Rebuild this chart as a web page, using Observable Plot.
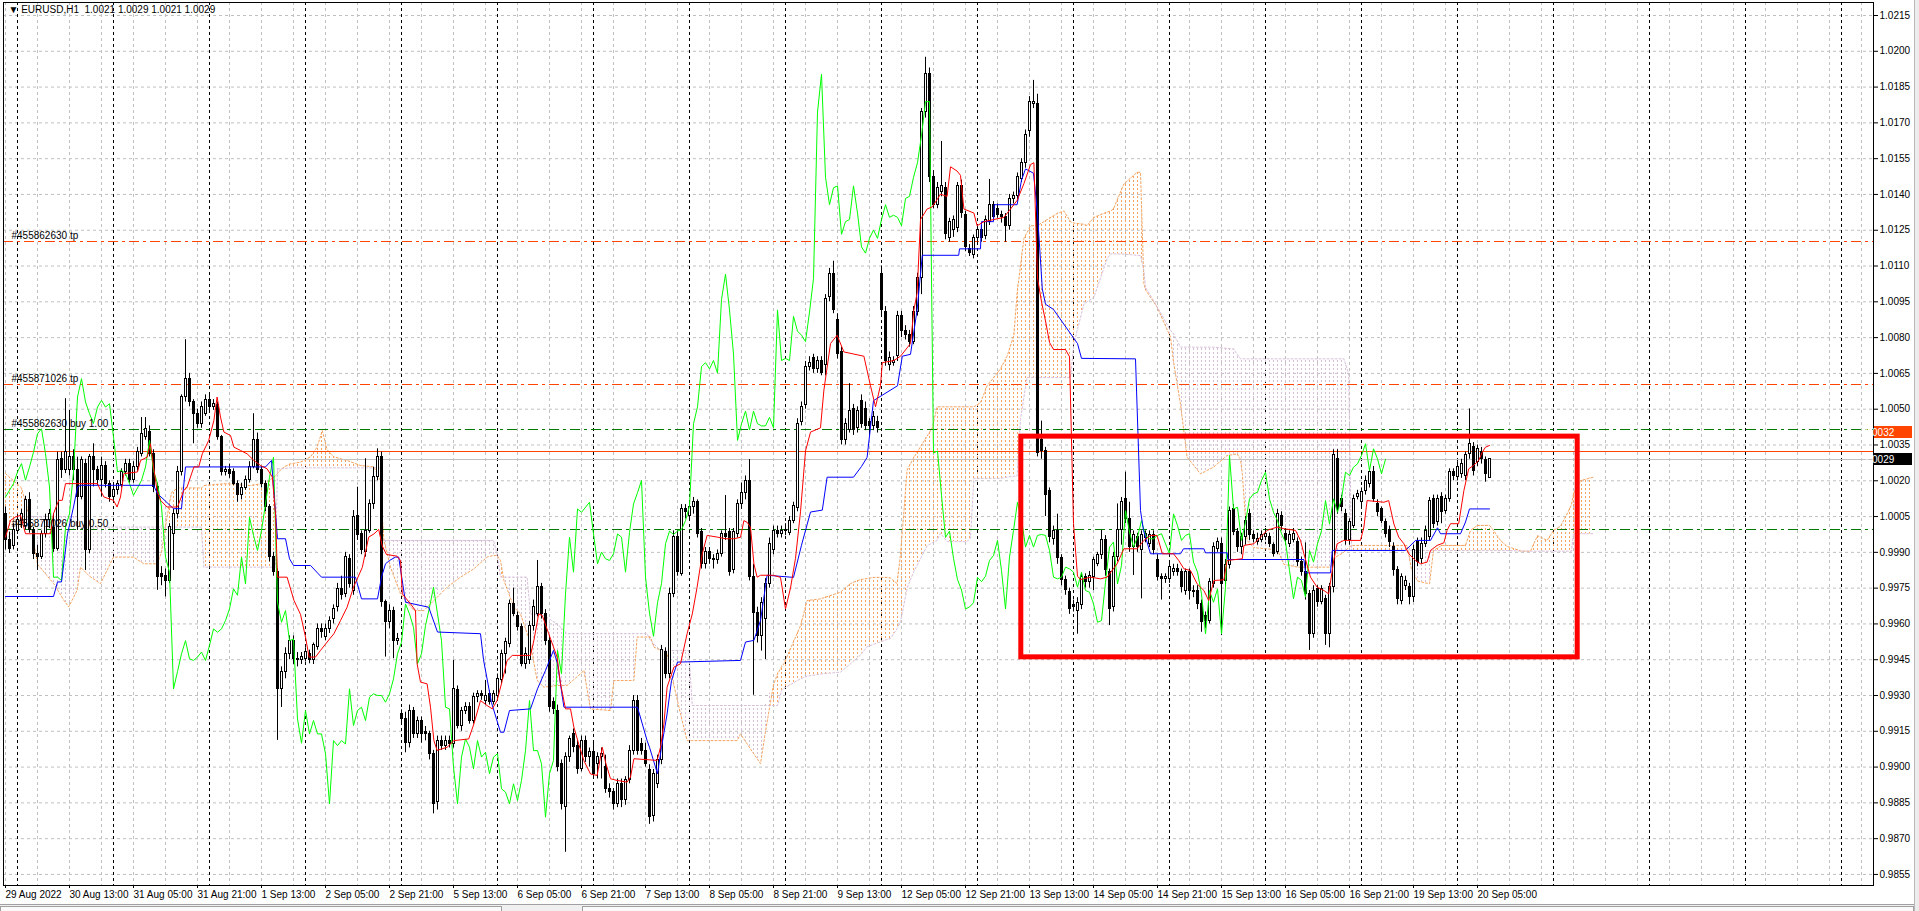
<!DOCTYPE html>
<html>
<head>
<meta charset="utf-8">
<script src="https://cdn.jsdelivr.net/npm/d3@7"></script>
<script src="https://cdn.jsdelivr.net/npm/@observablehq/plot@0.6"></script>
<style>
html, body { margin: 0; padding: 0; background: #ffffff; }
#wrap { position: relative; width: 1919px; height: 911px; overflow: hidden; background: #fff; }
#bottomStrip { position: absolute; left: 0; top: 904px; width: 1919px; height: 7px; background: #f0f0f0; border-top: 1px solid #a0a0a0; }
#tab1 { position: absolute; left: 0; top: 906px; width: 500px; height: 5px; border: 1px solid #a0a0a0; border-bottom: none; background: #fafafa; }
#tab2 { position: absolute; left: 582px; top: 906px; width: 1330px; height: 5px; border: 1px solid #a0a0a0; border-bottom: none; background: #fafafa; }
#rightStrip { position: absolute; left: 1914px; top: 0; width: 5px; height: 911px; background: #ececec; border-left: 1px solid #b8b8b8; }
</style>
</head>
<body>
<svg width="0" height="0" style="position:absolute">
  <defs>
    <pattern id="hatchA" patternUnits="userSpaceOnUse" width="4" height="4">
      <rect x="1" y="0" width="1" height="2" fill="#f4a460"></rect>
    </pattern>
    <pattern id="hatchB" patternUnits="userSpaceOnUse" width="4" height="4">
      <rect x="1" y="0" width="1" height="2" fill="#d8bfd8"></rect>
    </pattern>
  </defs>
</svg>
<div id="wrap"><div id="bottomStrip"></div><div id="tab1"></div><div id="tab2"></div><div id="rightStrip"></div></div>
<script>
// ---------------- DATA (EURUSD H1, bar 0 = 30 Aug 2022 00:00, first visible bar = -3) ----------------
const firstBar = -3;

const openPrices = [
  1.00060, 0.99950, 0.99925, 0.99990, 1.00030, 1.00010, 1.00118, 0.99992, 0.99894, 0.99880,
  0.99975, 1.00034, 1.00000, 0.99915, 1.00292, 1.00244, 1.00244, 1.00300, 1.00244, 1.00132,
  1.00272, 0.99908, 1.00299, 1.00244, 1.00202, 1.00260, 1.00188, 1.00132, 1.00160, 1.00181,
  1.00237, 1.00272, 1.00202, 1.00258, 1.00313, 1.00383, 1.00404, 1.00313, 1.00174, 0.99810,
  0.99800, 0.99782, 0.99978, 1.00062, 1.00237, 1.00551, 1.00628, 1.00530, 1.00481, 1.00439,
  1.00481, 1.00537, 1.00509, 1.00516, 1.00383, 1.00237, 1.00244, 1.00237, 1.00188, 1.00139,
  1.00170, 1.00202, 1.00258, 1.00369, 1.00244, 1.00188, 1.00090, 0.99880, 0.99817, 0.99328,
  0.99400, 0.99475, 0.99530, 0.99454, 0.99447, 0.99454, 0.99475, 0.99447, 0.99503, 0.99579,
  0.99544, 0.99579, 0.99621, 0.99670, 0.99747, 0.99726, 0.99873, 0.99740, 1.00054, 0.99977,
  0.99901, 0.99991, 1.00103, 1.00215, 1.00299, 0.99691, 0.99607, 0.99656, 0.99530, 0.99223,
  0.99202, 0.99100, 0.99237, 0.99139, 0.99195, 0.99146, 0.99139, 0.99056, 0.98853, 0.99111,
  0.99090, 0.99111, 0.99097, 0.99321, 0.99174, 0.99237, 0.99251, 0.99195, 0.99293, 0.99307,
  0.99279, 0.99307, 0.99272, 0.99300, 0.99363, 0.99475, 0.99516, 0.99684, 0.99635, 0.99586,
  0.99433, 0.99447, 0.99593, 0.99642, 0.99754, 0.99642, 0.99530, 0.99272, 0.99237, 0.99014,
  0.98832, 0.99042, 0.99139, 0.99090, 0.98993, 0.99111, 0.99042, 0.99062, 0.99014, 0.99042,
  0.99000, 0.98909, 0.98895, 0.98846, 0.98930, 0.98860, 0.98944, 0.99069, 0.99279, 0.99097,
  0.99069, 0.98986, 0.98797, 0.98930, 0.99028, 0.99482, 0.99391, 0.99726, 0.99964, 0.99810,
  1.00082, 1.00054, 1.00089, 1.00110, 0.99984, 0.99852, 0.99901, 0.99873, 0.99866, 0.99894,
  0.99977, 0.99984, 0.99824, 0.99977, 1.00103, 1.00150, 1.00201, 0.99796, 0.99645, 0.99548,
  0.99620, 0.99769, 0.99910, 0.99989, 0.99975, 0.99989, 0.99980, 1.00033, 1.00087, 1.00448,
  1.00519, 1.00678, 1.00713, 1.00669, 1.00704, 1.00686, 1.00969, 1.01066, 1.00872, 1.00739,
  1.00369, 1.00413, 1.00501, 1.00422, 1.00536, 1.00500, 1.00448, 1.00430, 1.00448, 1.01066,
  1.00907, 1.00686, 1.00695, 1.00722, 1.00889, 1.00827, 1.00810, 1.00783, 1.00907, 1.01048,
  1.01745, 1.01904, 1.01472, 1.01357, 1.01410, 1.01428, 1.01216, 1.01250, 1.01260, 1.01436,
  1.01313, 1.01172, 1.01145, 1.01216, 1.01251, 1.01225, 1.01286, 1.01357, 1.01339, 1.01313,
  1.01304, 1.01269, 1.01383, 1.01392, 1.01463, 1.01533, 1.01666, 1.01780, 1.01780, 1.00369,
  1.00325, 1.00157, 0.99954, 0.99989, 0.99875, 0.99786, 0.99733, 0.99680, 0.99654, 0.99680,
  0.99795, 0.99777, 0.99796, 0.99852, 0.99887, 0.99950, 0.99817, 0.99670, 0.99880, 0.99992,
  1.00124, 1.00040, 0.99922, 0.99964, 0.99908, 0.99960, 0.99936, 0.99971, 0.99866, 0.99796,
  0.99789, 0.99789, 0.99817, 0.99831, 0.99817, 0.99740, 0.99817, 0.99740, 0.99740, 0.99684,
  0.99635, 0.99614, 0.99768, 0.99915, 0.99936, 0.99782, 0.99845, 1.00082, 0.99985, 0.99922,
  0.99964, 1.00061, 0.99971, 0.99943, 0.99950, 0.99964, 0.99964, 0.99929, 0.99901, 1.00054,
  0.99978, 0.99936, 0.99950, 0.99943, 0.99859, 0.99817, 0.99726, 0.99558, 0.99747, 0.99691,
  0.99705, 0.99558, 0.99754, 1.00292, 1.00124, 1.00061, 0.99950, 1.00012, 1.00131, 1.00110,
  1.00159, 1.00187, 1.00236, 1.00103, 1.00082, 1.00026, 0.99992, 0.99922, 0.99824, 0.99698,
  0.99761, 0.99754, 0.99712, 0.99943, 0.99873, 0.99936, 0.99964, 1.00124, 1.00026, 1.00131,
  1.00075, 1.00124, 1.00236, 1.00215, 1.00229, 1.00222, 1.00313, 1.00341, 1.00278, 1.00320,
  1.00285, 1.00210
];

const highPrices = [
  1.00090, 0.99985, 1.00020, 1.00060, 1.00080, 1.00135, 1.00150, 1.00005, 0.99930, 0.99990,
  1.00060, 1.00080, 1.00062, 1.00320, 1.00320, 1.00544, 1.00495, 1.00330, 1.00299, 1.00300,
  1.00290, 1.00310, 1.00355, 1.00260, 1.00299, 1.00280, 1.00200, 1.00180, 1.00200, 1.00250,
  1.00290, 1.00290, 1.00280, 1.00340, 1.00465, 1.00465, 1.00430, 1.00330, 1.00190, 0.99840,
  0.99830, 1.00020, 1.00080, 1.00260, 1.00560, 1.00791, 1.00650, 1.00540, 1.00500, 1.00530,
  1.00560, 1.00560, 1.00540, 1.00530, 1.00390, 1.00260, 1.00270, 1.00250, 1.00200, 1.00190,
  1.00220, 1.00280, 1.00481, 1.00400, 1.00260, 1.00200, 1.00100, 0.99900, 0.99830, 0.99420,
  0.99500, 0.99550, 0.99550, 0.99480, 0.99480, 0.99500, 0.99490, 0.99520, 0.99600, 0.99600,
  0.99600, 0.99630, 0.99680, 0.99770, 0.99800, 0.99900, 0.99890, 1.00075, 1.00173, 0.99990,
  1.00292, 1.00120, 1.00257, 1.00334, 1.00320, 0.99700, 0.99680, 0.99670, 0.99560, 0.99240,
  0.99230, 0.99260, 0.99250, 0.99210, 0.99210, 0.99170, 0.99150, 0.99070, 0.99130, 0.99130,
  0.99130, 0.99130, 0.99447, 0.99340, 0.99250, 0.99270, 0.99270, 0.99310, 0.99320, 0.99320,
  0.99363, 0.99320, 0.99320, 0.99390, 0.99490, 0.99540, 0.99700, 0.99750, 0.99650, 0.99600,
  0.99500, 0.99610, 0.99700, 0.99866, 0.99770, 0.99660, 0.99550, 0.99290, 0.99260, 0.99030,
  0.99060, 0.99130, 0.99160, 0.99110, 0.99130, 0.99130, 0.99080, 0.99100, 0.99060, 0.99080,
  0.99050, 0.98930, 0.98910, 0.98950, 0.98950, 0.98960, 0.99090, 0.99300, 0.99300, 0.99120,
  0.99100, 0.99010, 0.98990, 0.99050, 0.99510, 0.99500, 0.99750, 0.99990, 0.99990, 1.00100,
  1.00100, 1.00110, 1.00130, 1.00120, 1.00000, 0.99920, 0.99920, 0.99890, 0.99910, 0.99990,
  1.00138, 1.00000, 1.00000, 1.00120, 1.00190, 1.00220, 1.00289, 0.99850, 0.99670, 0.99710,
  0.99790, 0.99960, 1.00010, 1.00010, 1.00010, 1.00020, 1.00050, 1.00110, 1.00460, 1.00530,
  1.00700, 1.00720, 1.00730, 1.00720, 1.00720, 1.00980, 1.01090, 1.01120, 1.00900, 1.00760,
  1.00460, 1.00607, 1.00520, 1.00510, 1.00560, 1.00530, 1.00460, 1.00490, 1.00470, 1.01100,
  1.00930, 1.00740, 1.00720, 1.00910, 1.00910, 1.00850, 1.00830, 1.00930, 1.01070, 1.01760,
  1.01975, 1.01930, 1.01500, 1.01450, 1.01622, 1.01450, 1.01300, 1.01310, 1.01450, 1.01460,
  1.01330, 1.01190, 1.01230, 1.01270, 1.01270, 1.01310, 1.01463, 1.01370, 1.01360, 1.01330,
  1.01320, 1.01400, 1.01410, 1.01490, 1.01550, 1.01670, 1.01810, 1.01878, 1.01820, 1.00450,
  1.00340, 1.00170, 1.00010, 1.00060, 0.99890, 0.99800, 0.99750, 0.99700, 0.99710, 0.99810,
  0.99810, 0.99820, 0.99880, 0.99900, 0.99992, 0.99970, 0.99830, 0.99900, 1.00103, 1.00130,
  1.00236, 1.00110, 0.99990, 0.99980, 0.99990, 0.99990, 0.99990, 0.99990, 0.99890, 0.99810,
  0.99810, 0.99860, 0.99850, 0.99850, 0.99830, 0.99830, 0.99830, 0.99760, 0.99760, 0.99700,
  0.99650, 0.99790, 0.99940, 0.99960, 0.99960, 0.99870, 1.00090, 1.00100, 1.00000, 0.99980,
  1.00050, 1.00080, 0.99990, 0.99980, 0.99990, 1.00000, 0.99980, 0.99940, 1.00080, 1.00070,
  1.00000, 0.99990, 1.00000, 0.99960, 0.99880, 0.99940, 0.99740, 0.99760, 0.99760, 0.99760,
  0.99720, 0.99770, 1.00330, 1.00330, 1.00140, 1.00080, 1.00040, 1.00140, 1.00160, 1.00170,
  1.00220, 1.00250, 1.00260, 1.00120, 1.00090, 1.00040, 1.00010, 0.99940, 0.99840, 0.99810,
  0.99800, 0.99770, 0.99930, 0.99960, 0.99960, 1.00010, 1.00130, 1.00140, 1.00140, 1.00150,
  1.00140, 1.00250, 1.00250, 1.00280, 1.00290, 1.00320, 1.00501, 1.00360, 1.00350, 1.00340,
  1.00300, 1.00290
];

const lowPrices = [
  0.99910, 0.99895, 0.99910, 0.99975, 1.00000, 0.99995, 0.99980, 0.99870, 0.99824, 0.99870,
  0.99960, 1.00000, 0.99900, 0.99905, 1.00210, 1.00230, 1.00220, 1.00200, 0.99992, 1.00120,
  0.99824, 0.99894, 1.00174, 1.00180, 1.00132, 1.00170, 1.00110, 1.00110, 1.00140, 1.00170,
  1.00220, 1.00190, 1.00190, 1.00240, 1.00300, 1.00370, 1.00300, 1.00150, 0.99741, 0.99760,
  0.99713, 0.99770, 0.99824, 1.00040, 1.00220, 1.00530, 1.00510, 1.00355, 1.00420, 1.00420,
  1.00470, 1.00490, 1.00495, 1.00370, 1.00220, 1.00220, 1.00210, 1.00180, 1.00110, 1.00120,
  1.00160, 1.00190, 1.00250, 1.00230, 1.00170, 1.00070, 0.99860, 0.99800, 0.99112, 0.99250,
  0.99370, 0.99450, 0.99430, 0.99420, 0.99430, 0.99440, 0.99433, 0.99430, 0.99490, 0.99540,
  0.99530, 0.99560, 0.99600, 0.99650, 0.99700, 0.99710, 0.99750, 0.99720, 0.99950, 0.99890,
  0.99880, 0.99980, 1.00080, 1.00200, 0.99670, 0.99461, 0.99580, 0.99454, 0.99510, 0.99180,
  0.99060, 0.99080, 0.99120, 0.99120, 0.99100, 0.99110, 0.99030, 0.98804, 0.98820, 0.99070,
  0.99070, 0.99080, 0.99080, 0.99160, 0.99150, 0.99220, 0.99180, 0.99180, 0.99270, 0.99280,
  0.99260, 0.99260, 0.99260, 0.99280, 0.99350, 0.99390, 0.99500, 0.99630, 0.99570, 0.99420,
  0.99410, 0.99430, 0.99570, 0.99630, 0.99620, 0.99510, 0.99230, 0.99220, 0.98980, 0.98820,
  0.98643, 0.99020, 0.99060, 0.98970, 0.98980, 0.99020, 0.99000, 0.98950, 0.98950, 0.98950,
  0.98890, 0.98870, 0.98820, 0.98830, 0.98830, 0.98840, 0.98930, 0.99050, 0.99050, 0.99050,
  0.99000, 0.98760, 0.98770, 0.98910, 0.99010, 0.99370, 0.99370, 0.99710, 0.99800, 0.99800,
  1.00040, 1.00040, 1.00060, 0.99960, 0.99830, 0.99830, 0.99850, 0.99830, 0.99850, 0.99880,
  0.99950, 0.99800, 0.99810, 0.99960, 1.00080, 1.00120, 0.99780, 0.99301, 0.99520, 0.99486,
  0.99451, 0.99750, 0.99890, 0.99960, 0.99960, 0.99970, 0.99970, 1.00020, 1.00070, 1.00430,
  1.00500, 1.00660, 1.00650, 1.00650, 1.00640, 1.00640, 1.00950, 1.00900, 1.00710, 1.00350,
  1.00350, 1.00400, 1.00390, 1.00400, 1.00420, 1.00410, 1.00390, 1.00410, 1.00400, 1.00890,
  1.00680, 1.00660, 1.00680, 1.00700, 1.00800, 1.00790, 1.00760, 1.00770, 1.00890, 1.00980,
  1.01720, 1.01450, 1.01340, 1.01340, 1.01390, 1.01210, 1.01200, 1.01220, 1.01240, 1.01300,
  1.01160, 1.01140, 1.01130, 1.01200, 1.01200, 1.01210, 1.01270, 1.01290, 1.01300, 1.01280,
  1.01200, 1.01250, 1.01360, 1.01370, 1.01450, 1.01510, 1.01640, 1.01760, 1.00300, 1.00290,
  1.00050, 0.99940, 0.99930, 0.99850, 0.99760, 0.99720, 0.99640, 0.99650, 0.99557, 0.99660,
  0.99750, 0.99750, 0.99740, 0.99840, 0.99870, 0.99800, 0.99593, 0.99650, 0.99860, 0.99930,
  1.00020, 0.99900, 0.99803, 0.99900, 0.99705, 0.99940, 0.99920, 0.99890, 0.99780, 0.99700,
  0.99770, 0.99770, 0.99800, 0.99800, 0.99730, 0.99720, 0.99700, 0.99710, 0.99660, 0.99565,
  0.99580, 0.99600, 0.99750, 0.99900, 0.99551, 0.99760, 0.99830, 0.99970, 0.99900, 0.99890,
  0.99930, 0.99950, 0.99940, 0.99930, 0.99940, 0.99950, 0.99920, 0.99880, 0.99890, 0.99990,
  0.99930, 0.99920, 0.99940, 0.99840, 0.99800, 0.99700, 0.99489, 0.99540, 0.99670, 0.99680,
  0.99510, 0.99500, 0.99730, 1.00060, 1.00070, 0.99930, 0.99930, 1.00000, 1.00120, 1.00090,
  1.00140, 1.00170, 1.00110, 1.00050, 1.00020, 0.99960, 0.99920, 0.99800, 0.99680, 0.99680,
  0.99740, 0.99680, 0.99690, 0.99840, 0.99850, 0.99920, 0.99950, 1.00000, 1.00010, 1.00020,
  1.00060, 1.00110, 1.00200, 1.00200, 1.00210, 1.00200, 1.00290, 1.00220, 1.00260, 1.00270,
  1.00194, 1.00210
];

const closePrices = [
  0.99950, 0.99915, 0.99995, 1.00034, 1.00060, 1.00118, 0.99992, 0.99894, 0.99880, 0.99975,
  1.00034, 1.00062, 0.99915, 1.00285, 1.00244, 1.00320, 1.00300, 1.00244, 1.00132, 1.00285,
  0.99908, 1.00299, 1.00244, 1.00202, 1.00260, 1.00188, 1.00132, 1.00160, 1.00188, 1.00237,
  1.00272, 1.00202, 1.00258, 1.00320, 1.00397, 1.00418, 1.00313, 1.00174, 0.99796, 0.99796,
  0.99782, 1.00006, 1.00062, 1.00237, 1.00551, 1.00628, 1.00530, 1.00481, 1.00440, 1.00509,
  1.00537, 1.00509, 1.00523, 1.00383, 1.00237, 1.00244, 1.00230, 1.00188, 1.00139, 1.00170,
  1.00202, 1.00258, 1.00369, 1.00244, 1.00188, 1.00090, 0.99880, 0.99817, 0.99328, 0.99400,
  0.99475, 0.99530, 0.99454, 0.99447, 0.99461, 0.99482, 0.99447, 0.99510, 0.99579, 0.99565,
  0.99579, 0.99614, 0.99663, 0.99747, 0.99720, 0.99880, 0.99768, 1.00047, 0.99971, 0.99908,
  0.99991, 1.00103, 1.00215, 1.00299, 0.99691, 0.99607, 0.99656, 0.99530, 0.99537, 0.99202,
  0.99100, 0.99237, 0.99139, 0.99195, 0.99139, 0.99139, 0.99056, 0.98846, 0.99111, 0.99090,
  0.99111, 0.99097, 0.99328, 0.99174, 0.99237, 0.99251, 0.99195, 0.99293, 0.99307, 0.99300,
  0.99300, 0.99272, 0.99307, 0.99370, 0.99475, 0.99523, 0.99684, 0.99642, 0.99586, 0.99433,
  0.99475, 0.99593, 0.99670, 0.99754, 0.99642, 0.99530, 0.99251, 0.99244, 0.99000, 0.98846,
  0.99042, 0.99118, 0.99083, 0.98993, 0.99111, 0.99042, 0.99062, 0.98972, 0.99042, 0.99056,
  0.98909, 0.98895, 0.98846, 0.98930, 0.98860, 0.98944, 0.99069, 0.99279, 0.99069, 0.99069,
  0.99014, 0.98790, 0.98972, 0.99028, 0.99489, 0.99391, 0.99726, 0.99964, 0.99817, 1.00082,
  1.00068, 1.00089, 1.00110, 0.99977, 0.99852, 0.99901, 0.99873, 0.99866, 0.99894, 0.99977,
  0.99964, 0.99817, 0.99984, 1.00103, 1.00150, 1.00201, 0.99796, 0.99645, 0.99548, 0.99689,
  0.99769, 0.99936, 0.99989, 0.99975, 0.99989, 0.99995, 1.00033, 1.00095, 1.00439, 1.00510,
  1.00678, 1.00695, 1.00669, 1.00704, 1.00651, 1.00960, 1.01066, 1.00916, 1.00731, 1.00369,
  1.00439, 1.00492, 1.00413, 1.00492, 1.00439, 1.00430, 1.00430, 1.00466, 1.00422, 1.00916,
  1.00704, 1.00713, 1.00704, 1.00889, 1.00827, 1.00810, 1.00783, 1.00907, 1.01048, 1.01745,
  1.01904, 1.01472, 1.01357, 1.01428, 1.01436, 1.01233, 1.01286, 1.01295, 1.01436, 1.01322,
  1.01180, 1.01154, 1.01216, 1.01251, 1.01216, 1.01295, 1.01357, 1.01304, 1.01313, 1.01304,
  1.01269, 1.01383, 1.01392, 1.01472, 1.01533, 1.01648, 1.01789, 1.01789, 1.00316, 1.00325,
  1.00139, 0.99963, 0.99989, 0.99875, 0.99786, 0.99742, 0.99663, 0.99671, 0.99689, 0.99795,
  0.99777, 0.99800, 0.99866, 0.99887, 0.99950, 0.99824, 0.99663, 0.99880, 0.99992, 1.00110,
  1.00040, 0.99922, 0.99971, 0.99922, 0.99971, 0.99975, 0.99971, 0.99908, 0.99796, 0.99789,
  0.99796, 0.99838, 0.99831, 0.99817, 0.99754, 0.99817, 0.99740, 0.99733, 0.99684, 0.99607,
  0.99614, 0.99775, 0.99922, 0.99943, 0.99768, 0.99845, 1.00075, 0.99985, 0.99922, 0.99964,
  1.00033, 0.99971, 0.99957, 0.99957, 0.99971, 0.99978, 0.99936, 0.99894, 1.00061, 1.00012,
  0.99950, 0.99971, 0.99978, 0.99859, 0.99817, 0.99726, 0.99558, 0.99740, 0.99691, 0.99747,
  0.99558, 0.99754, 1.00306, 1.00082, 1.00089, 0.99950, 1.00026, 1.00124, 1.00145, 1.00152,
  1.00201, 1.00236, 1.00124, 1.00068, 1.00033, 0.99978, 0.99943, 0.99824, 0.99705, 0.99796,
  0.99782, 0.99712, 0.99908, 0.99859, 0.99936, 0.99990, 1.00117, 1.00019, 1.00124, 1.00068,
  1.00124, 1.00236, 1.00222, 1.00257, 1.00271, 1.00306, 1.00355, 1.00243, 1.00334, 1.00292,
  1.00229, 1.00290
];

// Tenkan-sen (red): [bar, price]
const tenkanLine = [
  [-3,0.99964],[-1.75,1.00034],[-0.5,1.00048],[0.75,1.00055],[2,0.99978],[8.25,0.99978],[9,1.00062],[10.3,1.00118],
  [11.2,1.00118],[12,1.00188],[20,1.00188],[20.75,1.00160],[21.6,1.00132],[24,1.00118],[24.9,1.00090],[25.75,1.00132],
  [26.6,1.00230],[30,1.00237],[30.75,1.00285],[32.4,1.00299],[33.25,1.00355],[34,1.00258],[34.9,1.00160],[35.75,1.00118],
  [37.4,1.00090],[40,1.00090],[41.6,1.00160],[42.4,1.00174],[44.1,1.00258],[45.3,1.00258],[46.2,1.00313],[47.8,1.00369],
  [49.1,1.00453],[49.9,1.00551],[50.75,1.00467],[51.6,1.00404],[53.25,1.00390],[54.1,1.00341],[55.75,1.00327],[57.4,1.00313],
  [59.1,1.00285],[60.75,1.00264],[62.4,1.00250],[63.7,1.00216],[64.5,1.00062],[65,0.99796],[67.4,0.99796],[69.1,0.99699],
  [70.75,0.99640],[72,0.99545],[72.9,0.99461],[74.5,0.99461],[75.75,0.99489],[77.4,0.99524],[79.1,0.99559],[80.75,0.99614],
  [82.4,0.99670],[84,0.99754],[86.2,0.99837],[87.8,0.99964],[89.1,0.99977],[90.3,0.99996],[91.2,0.99926],[92.25,0.99891],
  [94.9,0.99884],[95.75,0.99866],[96.2,0.99726],[98.25,0.99684],[99.5,0.99656],[99.9,0.99433],[100.75,0.99356],[102.4,0.99349],
  [103.25,0.99251],[104.1,0.99111],[104.9,0.99070],[107.4,0.99083],[109.1,0.99111],[112.8,0.99118],[114.1,0.99181],[115.75,0.99279],
  [117.4,0.99258],[118.7,0.99244],[119.9,0.99279],[121.2,0.99363],[122.4,0.99447],[123.7,0.99468],[128.25,0.99468],[129.1,0.99531],
  [130.3,0.99642],[131.2,0.99635],[132.8,0.99559],[134.9,0.99461],[135.75,0.99349],[137,0.99244],[138.25,0.99244],[139.1,0.99167],
  [140.3,0.99097],[141.6,0.99027],[143.25,0.98971],[144.9,0.98965],[146.2,0.99083],[147,0.99021],[148.25,0.98951],[149.9,0.98944],
  [152.4,0.98937],[153.25,0.98958],[154.1,0.99035],[159.9,0.99028],[160.75,0.99083],[161.6,0.99181],[162.4,0.99335],[164.1,0.99419],
  [165.75,0.99433],[167.4,0.99559],[168.7,0.99642],[169.9,0.99754],[171.2,0.99894],[172.4,0.99971],[174.9,0.99964],[177,0.99957],
  [179.1,0.99957],[180.75,0.99963],[181.6,1.00033],[182.4,1.00026],[183.25,1.00005],[184.1,0.99852],[184.9,0.99796],[185.75,0.99804],
  [189,0.99804],[190.75,0.99795],[192,0.99663],[193.25,0.99751],[194.5,0.99875],[195.75,1.00070],[197,1.00325],[198.25,1.00404],
  [200.75,1.00422],[201.6,1.00580],[203.25,1.00775],[204.9,1.00810],[206.6,1.00740],[211.6,1.00722],[213.25,1.00598],[214.5,1.00510],
  [215.75,1.00600],[216.2,1.00695],[219.1,1.00704],[220.75,1.00722],[222.4,1.00757],[223.25,1.00775],[224.1,1.00916],[224.9,1.00986],
  [225.75,1.01295],[227.4,1.01339],[228.7,1.01348],[230.75,1.01401],[232.4,1.01392],[233.25,1.01516],[234.9,1.01498],[235.75,1.01480],
  [236.6,1.01339],[239.1,1.01322],[239.9,1.01269],[241.6,1.01286],[244.1,1.01295],[246.6,1.01304],[248.25,1.01339],[249.9,1.01375],
  [251.6,1.01445],[253.25,1.01525],[254.1,1.01533],[255,1.01050],[256,1.00950],[257,1.00870],[258,1.00780],[259,1.00750],
  [262,1.00750],[263,1.00720],[264,1.00020],[265,0.99800],[265.75,0.99786],[268.25,0.99796],[270.75,0.99789],[272.4,0.99796],
  [274.9,0.99852],[276.6,0.99915],[279.9,0.99915],[281.6,0.99950],[283.25,0.99971],[284.9,0.99971],[286.2,0.99894],[289,0.99894],
  [290.3,0.99866],[291.6,0.99831],[293.25,0.99824],[294.9,0.99768],[296.6,0.99740],[297.8,0.99698],[299.1,0.99782],[301.6,0.99785],
  [302.4,0.99866],[306.2,0.99873],[306.6,0.99929],[309.1,0.99936],[310.75,0.99964],[312.4,0.99992],[314.9,1.00006],[316.6,0.99999],
  [319.5,0.99992],[320.75,0.99950],[321.6,0.99894],[323.25,0.99796],[324.9,0.99754],[326.6,0.99740],[327.8,0.99726],[329.1,0.99870],
  [329.9,0.99936],[331.6,0.99950],[335.75,0.99950],[336.6,1.00006],[337.4,1.00117],[341.6,1.00110],[342.8,1.00117],[344.1,1.00019],
  [345.3,0.99964],[346.6,0.99936],[347.8,0.99894],[349.5,0.99866],[350.75,0.99852],[352.4,0.99859],[353.25,0.99908],[354.9,0.99929],
  [356.6,0.99940],[357.4,0.99992],[358.25,1.00020],[360.3,1.00020],[361.6,1.00159],[362.8,1.00250],[364,1.00264],[365.3,1.00285],
  [366.2,1.00320],[367,1.00341],[368,1.00348]
];

// Kijun-sen (blue): [bar, price]
const kijunLine = [
  [-3,0.99715],[9,0.99715],[10,0.99776],[11,0.99776],[12.5,0.99978],[14,1.00090],[15,1.00174],[15.75,1.00181],
  [34,1.00181],[35,1.00146],[39,1.00083],[41,1.00083],[42,1.00258],[62,1.00258],[63.5,1.00285],[65,0.99957],
  [67,0.99957],[68,0.99873],[69,0.99845],[73.25,0.99845],[76,0.99796],[84.5,0.99796],[86,0.99705],[90,0.99705],
  [91,0.99796],[92,0.99852],[93,0.99866],[94.5,0.99880],[95.3,0.99880],[97,0.99691],[102.8,0.99670],[105,0.99566],
  [115.75,0.99559],[116.5,0.99450],[118.5,0.99270],[120.75,0.99146],[121.6,0.99146],[123,0.99237],[128.25,0.99244],[130,0.99328],
  [132,0.99405],[134,0.99489],[135,0.99433],[136.6,0.99251],[155,0.99251],[157.4,0.99111],[158,0.99083],[160,0.98972],
  [161,0.99083],[162.4,0.99223],[163.5,0.99363],[165,0.99440],[180.75,0.99447],[182,0.99524],[184.1,0.99531],[185.75,0.99614],
  [187.4,0.99804],[194,0.99795],[196,0.99930],[198.25,1.00069],[201.2,1.00077],[202.4,1.00215],[209,1.00215],[211,1.00260],
  [212.4,1.00298],[213.7,1.00492],[214,1.00536],[220,1.00598],[221.2,1.00722],[223.25,1.00730],[224.9,1.00916],[226.2,1.01145],
  [235.3,1.01145],[235.5,1.01172],[240.75,1.01172],[241,1.01286],[244,1.01286],[244.2,1.01357],[249.9,1.01357],[251,1.01460],
  [252,1.01507],[254,1.01489],[255,1.01320],[256.2,1.01004],[257,1.00940],[259,1.00918],[265,1.00775],[266,1.00713],
  [279.5,1.00711],[280.75,1.00075],[281.5,0.99992],[283.25,0.99894],[290.75,0.99894],[291.5,0.99915],[296.6,0.99915],[297,0.99898],
  [302.4,0.99898],[302.6,0.99870],[321.6,0.99870],[322,0.99814],[328.25,0.99814],[328.7,0.99908],[347,0.99908],[349.5,0.99950],
  [353.25,0.99950],[355,1.00003],[355.75,0.99978],[360.75,0.99978],[362,1.00027],[363,1.00082],[368,1.00082]
];

// Senkou spans (cloud), shifted forward: [bar, span A, span B]
const senkouSpans = [
  [-3,1.00230,0.99950],[-1,1.00200,0.99990],[1,1.00170,1.00030],[3,1.00050,1.00050],[5,0.99850,1.00050],[7,0.99810,1.00050],
  [9,0.99770,1.00050],[11.6,0.99699,1.00050],[12.8,0.99671,1.00050],[14.9,0.99741,1.00050],[15.75,0.99838,1.00006],[18,0.99800,1.00006],
  [20.75,0.99769,1.00006],[24,0.99880,1.00006],[29,0.99880,1.00006],[31.6,0.99852,1.00006],[34.9,0.99852,1.00006],[36,0.99900,1.00006],
  [37.4,1.00050,1.00006],[38.5,1.00150,1.00006],[40,1.00170,1.00006],[46,1.00170,1.00006],[46.6,1.00180,0.99838],[52,1.00188,0.99838],
  [58,1.00180,0.99838],[62,1.00190,0.99838],[64.5,1.00220,0.99838],[65,1.00230,1.00250],[66,1.00250,1.00250],[68,1.00270,1.00254],
  [70.75,1.00278,1.00254],[73.25,1.00300,1.00254],[74.9,1.00341,1.00254],[76.2,1.00410,1.00254],[77.4,1.00330,1.00254],[79.1,1.00300,1.00254],
  [82.4,1.00285,1.00254],[85.75,1.00264,1.00254],[89.1,1.00258,1.00254],[90.75,1.00201,1.00254],[91.2,1.00050,0.99950],[91.6,0.99950,0.99950],
  [93.25,0.99838,0.99950],[95.75,0.99726,0.99950],[99.1,0.99656,0.99950],[101.6,0.99656,0.99950],[104.1,0.99698,0.99950],[107.4,0.99754,0.99950],
  [110.75,0.99796,0.99950],[114.1,0.99831,0.99950],[117.4,0.99880,0.99950],[119,0.99887,0.99950],[119.9,0.99887,0.99894],[120.75,0.99866,0.99796],
  [121.6,0.99782,0.99796],[124.1,0.99670,0.99796],[125.75,0.99642,0.99796],[127.4,0.99560,0.99796],[128.25,0.99516,0.99642],[129.9,0.99363,0.99640],
  [131.6,0.99335,0.99635],[134.9,0.99342,0.99600],[137.4,0.99342,0.99559],[140.75,0.99391,0.99559],[141.6,0.99405,0.99559],[143.25,0.99244,0.99559],
  [148.25,0.99237,0.99559],[149.1,0.99363,0.99559],[154.1,0.99363,0.99559],[154.9,0.99545,0.99559],[157.4,0.99545,0.99559],[158.25,0.99545,0.99530],
  [159.1,0.99503,0.99516],[160.75,0.99490,0.99489],[162.4,0.99475,0.99489],[163.25,0.99405,0.99489],[165.75,0.99223,0.99489],[167.4,0.99111,0.99489],
  [167.8,0.99111,0.99489],[168.7,0.99111,0.99258],[179.9,0.99111,0.99258],[180.75,0.99139,0.99258],[182.4,0.99097,0.99258],[185.75,0.99014,0.99258],
  [187,0.99150,0.99258],[189,0.99345,0.99258],[190,0.99390,0.99258],[191,0.99420,0.99320],[191.6,0.99433,0.99330],[195.75,0.99592,0.99370],
  [197.4,0.99698,0.99381],[200.75,0.99705,0.99390],[205.75,0.99733,0.99398],[208.25,0.99769,0.99433],[210.75,0.99786,0.99470],[212.4,0.99790,0.99504],
  [214.1,0.99795,0.99515],[217.4,0.99795,0.99535],[218.25,0.99792,0.99539],[219.9,0.99769,0.99580],[220.75,0.99892,0.99610],[221.6,1.00070,0.99680],
  [222.4,1.00245,0.99751],[224.1,1.00298,0.99820],[227.4,1.00387,0.99927],[228.7,1.00422,0.99940],[229.9,1.00510,0.99950],[230.75,1.00510,0.99980],
  [232.4,1.00510,0.99945],[237.4,1.00510,0.99945],[238.25,1.00510,0.99960],[239.1,1.00510,1.00210],[240.75,1.00527,1.00210],[242.4,1.00598,1.00210],
  [244.1,1.00633,1.00210],[245.75,1.00669,1.00210],[247.4,1.00722,1.00215],[249.1,1.00810,1.00219],[249.9,1.00986,1.00219],[250.75,1.01100,1.00457],
  [251.6,1.01216,1.00550],[252.4,1.01240,1.00633],[253.25,1.01269,1.00633],[254.9,1.01269,1.00633],[256.6,1.01286,1.00633],[259.9,1.01320,1.00633],
  [261.6,1.01331,1.00633],[263.25,1.01286,1.00633],[264.1,1.01280,1.00775],[266.6,1.01275,1.00940],[267.4,1.01269,1.00950],[269.1,1.01304,1.00969],
  [272.4,1.01326,1.01130],[273.25,1.01330,1.01151],[274,1.01340,1.01151],[276.6,1.01444,1.01150],[279.9,1.01493,1.01145],[280.75,1.01493,1.01144],
  [281.6,1.01025,1.01080],[282,1.01000,1.01011],[284.9,1.00928,1.00930],[288.25,1.00802,1.00830],[289,1.00700,1.00816],[290.75,1.00520,1.00760],
  [292.4,1.00299,1.00760],[295.75,1.00229,1.00760],[299,1.00257,1.00760],[302.4,1.00306,1.00755],[304,1.00310,1.00753],[304.9,1.00313,1.00730],
  [305.75,1.00290,1.00711],[306.2,1.00230,1.00711],[307.4,0.99950,1.00711],[309,0.99920,1.00711],[315,0.99910,1.00711],[316.6,0.99850,1.00711],
  [320,0.99838,1.00711],[328.25,0.99838,1.00711],[329.5,0.99880,1.00711],[331.6,0.99900,1.00711],[332.8,0.99920,1.00648],[333.5,0.99929,0.99908],
  [347.4,0.99929,0.99908],[348.5,0.99830,0.99908],[350,0.99780,0.99908],[353,0.99768,0.99908],[354,0.99908,0.99908],[356,0.99929,0.99908],
  [362,0.99929,0.99908],[363.25,0.99992,0.99908],[365,1.00013,0.99908],[368,1.00013,0.99908],[369,0.99992,0.99908],[370.75,0.99950,0.99908],
  [372.4,0.99925,0.99908],[376,0.99905,0.99905],[378.25,0.99905,0.99905],[380,0.99970,0.99905],[382.4,0.99950,0.99905],[384,0.99992,0.99905],
  [385.75,1.00010,0.99905],[387.4,1.00061,0.99905],[388.5,1.00100,0.99905],[389,1.00145,0.99978],[390.75,1.00201,0.99978],[392.4,1.00208,0.99978],
  [394,1.00215,0.99978]
];
const chikouShift = 26;

// Trade lines
const tradeLabels = ["#455862630 tp", "#455871026 tp", "#455862630 buy 1.00", "#455871026 buy 0.50"];
const tradePrices = [1.01203, 1.00604, 1.00414, 0.99995];
const tradeKinds = ["tp", "tp", "buy", "buy"];
const askPrice = 1.00322;
const bidPrice = 1.0029;

// Red rectangle object
const boxBars = [250.95, 390.05];
const boxPrices = [0.99460, 1.00385];

// Axes
const priceTicks = [0.9855, 0.9870, 0.9885, 0.9900, 0.9915, 0.9930, 0.9945, 0.9960, 0.9975, 0.9990, 1.0005, 1.0020,
  1.0035, 1.0050, 1.0065, 1.0080, 1.0095, 1.0110, 1.0125, 1.0140, 1.0155, 1.0170, 1.0185, 1.0200, 1.0215];
const timeTickBars = [-3, 13, 29, 45, 61, 77, 93, 109, 125, 141, 157, 173, 189, 205, 221, 237, 253, 269, 285, 301, 317, 333, 349, 365];
const timeLabels = ["29 Aug 2022", "30 Aug 13:00", "31 Aug 05:00", "31 Aug 21:00", "1 Sep 13:00", "2 Sep 05:00", "2 Sep 21:00",
  "5 Sep 13:00", "6 Sep 05:00", "6 Sep 21:00", "7 Sep 13:00", "8 Sep 05:00", "8 Sep 21:00", "9 Sep 13:00", "12 Sep 05:00",
  "12 Sep 21:00", "13 Sep 13:00", "14 Sep 05:00", "14 Sep 21:00", "15 Sep 13:00", "16 Sep 05:00", "16 Sep 21:00",
  "19 Sep 13:00", "20 Sep 05:00"];
const titleText = "\u25BC EURUSD,H1\u00A0\u00A01.0021 1.0029 1.0021 1.0029";

// ---------------- BUILD ----------------
const candles = openPrices.map((o, k) => ({
  bar: firstBar + k, open: o, high: highPrices[k], low: lowPrices[k], close: closePrices[k]
}));
const bull = candles.filter(d => d.close >= d.open);
const bear = candles.filter(d => d.close < d.open);
const chikou = candles.filter(d => d.bar - chikouShift >= firstBar).map(d => ({bar: d.bar - chikouShift, price: d.close}));
const tenkan = tenkanLine.map(([bar, price]) => ({bar, price}));
const kijun = kijunLine.map(([bar, price]) => ({bar, price}));
const cloud = senkouSpans.map(([bar, a, b]) => ({bar, a, b, top: Math.max(a, b)}));
const trades = tradeLabels.map((label, k) => ({label, price: tradePrices[k], kind: tradeKinds[k]}));
const labelByBar = new Map(timeTickBars.map((b, k) => [b, timeLabels[k]]));
const gridBars = d3.range(-3, 465, 8);
const daySeparators = d3.range(0, 465, 24);
const box = {x1: boxBars[0], x2: boxBars[1], y1: boxPrices[0], y2: boxPrices[1]};

const fontFamily = "'Liberation Sans', Arial, sans-serif";

const chart = Plot.plot({
  width: 1919,
  height: 911,
  marginTop: 2,
  marginBottom: 26,
  marginLeft: 3,
  marginRight: 46,
  style: {fontFamily, fontSize: "10px", color: "#000", background: "#fff", overflow: "visible"},
  x: {domain: [-3.5, 464], axis: null},
  y: {domain: [0.985037, 1.022045], axis: null},
  marks: [
    Plot.gridY(priceTicks, {stroke: "#c0c0c0", strokeOpacity: 1, strokeDasharray: "3,3"}),
    Plot.gridX(gridBars, {stroke: "#c0c0c0", strokeOpacity: 1, strokeDasharray: "3,3"}),
    Plot.ruleX(daySeparators, {stroke: "#000", strokeDasharray: "3,3"}),
    // cloud
    Plot.areaY(cloud, {x: "bar", y1: "b", y2: "top", fill: "url(#hatchA)"}),
    Plot.areaY(cloud, {x: "bar", y1: "a", y2: "top", fill: "url(#hatchB)"}),
    Plot.line(cloud, {x: "bar", y: "a", stroke: "#f4a460", strokeWidth: 1, strokeDasharray: "2,2"}),
    Plot.line(cloud, {x: "bar", y: "b", stroke: "#d8bfd8", strokeWidth: 1, strokeDasharray: "2,2"}),
    // trade lines and price lines
    Plot.ruleY(trades.filter(d => d.kind === "tp"), {y: "price", stroke: "#ff4500", strokeDasharray: "10,4,3,4", shapeRendering: "crispEdges"}),
    Plot.ruleY(trades.filter(d => d.kind === "buy"), {y: "price", stroke: "#007a00", strokeDasharray: "10,4,3,4", shapeRendering: "crispEdges"}),
    Plot.ruleY([bidPrice], {stroke: "#c0c0c0", shapeRendering: "crispEdges"}),
    Plot.ruleY([askPrice], {stroke: "#ff4500", shapeRendering: "crispEdges"}),
    // candles
    Plot.ruleX(candles, {x: "bar", y1: "low", y2: "high", stroke: "#000", strokeWidth: 1}),
    Plot.rect(bull, {x1: d => d.bar - 0.25, x2: d => d.bar + 0.25, y1: "open", y2: "close", fill: "#fff", stroke: "#000", strokeWidth: 1, shapeRendering: "crispEdges"}),
    Plot.rect(bear, {x1: d => d.bar - 0.25, x2: d => d.bar + 0.25, y1: "open", y2: "close", fill: "#000", stroke: "#000", strokeWidth: 1, shapeRendering: "crispEdges"}),
    // Ichimoku lines
    Plot.line(chikou, {x: "bar", y: "price", stroke: "#00ff00", strokeWidth: 1}),
    Plot.line(kijun, {x: "bar", y: "price", stroke: "#0000ff", strokeWidth: 1}),
    Plot.line(tenkan, {x: "bar", y: "price", stroke: "#ff0000", strokeWidth: 1}),
    // rectangle object
    Plot.rect([box], {x1: "x1", x2: "x2", y1: "y1", y2: "y2", fill: "none", stroke: "#ff0000", strokeWidth: 5}),
    Plot.frame({stroke: "#000"}),
    Plot.axisY(priceTicks, {anchor: "right", label: null, tickSize: 4, tickPadding: 2, tickFormat: d3.format(".4f"), fill: "#000"}),
    Plot.axisX(timeTickBars, {anchor: "bottom", label: null, tickSize: 3, tickPadding: 2, tickFormat: d => labelByBar.get(d), textAnchor: "start", dx: 0, fill: "#000"}),
    Plot.text(trades, {y: "price", text: "label", frameAnchor: "left", dx: 8, dy: -6, textAnchor: "start", fill: "#000"}),
    Plot.text([titleText], {text: d => d, frameAnchor: "top-left", dx: 5, dy: 3, textAnchor: "start", lineAnchor: "top", fill: "#000"})
  ]
});

// price labels on the axis (current ask / bid). The bid label sits on its line; the ask label is
// lifted just above the neighbouring 1.0035 tick label so that no two texts collide.
const yScale = chart.scale("y");
const g = d3.select(chart).append("g").attr("font-family", fontFamily).attr("font-size", 10);
const bidY = Math.round(yScale.apply(bidPrice));
const nearTick = priceTicks.find(t => t > askPrice);
const askY = Math.round(yScale.apply(nearTick)) - 12;
[[askPrice, askY, "#ff4500"], [bidPrice, bidY, "#000000"]].forEach(([p, yy, bg]) => {
  g.append("rect").attr("x", 1874).attr("y", yy - 6).attr("width", 38).attr("height", 12).attr("fill", bg);
  g.append("text").attr("x", 1879).attr("y", yy).attr("dy", "0.35em").attr("fill", "#fff").text(d3.format(".4f")(p));
});

const wrap = document.getElementById("wrap");
chart.style.position = "absolute";
chart.style.left = "0";
chart.style.top = "0";
wrap.insertBefore(chart, wrap.firstChild);
</script>
</body>
</html>
